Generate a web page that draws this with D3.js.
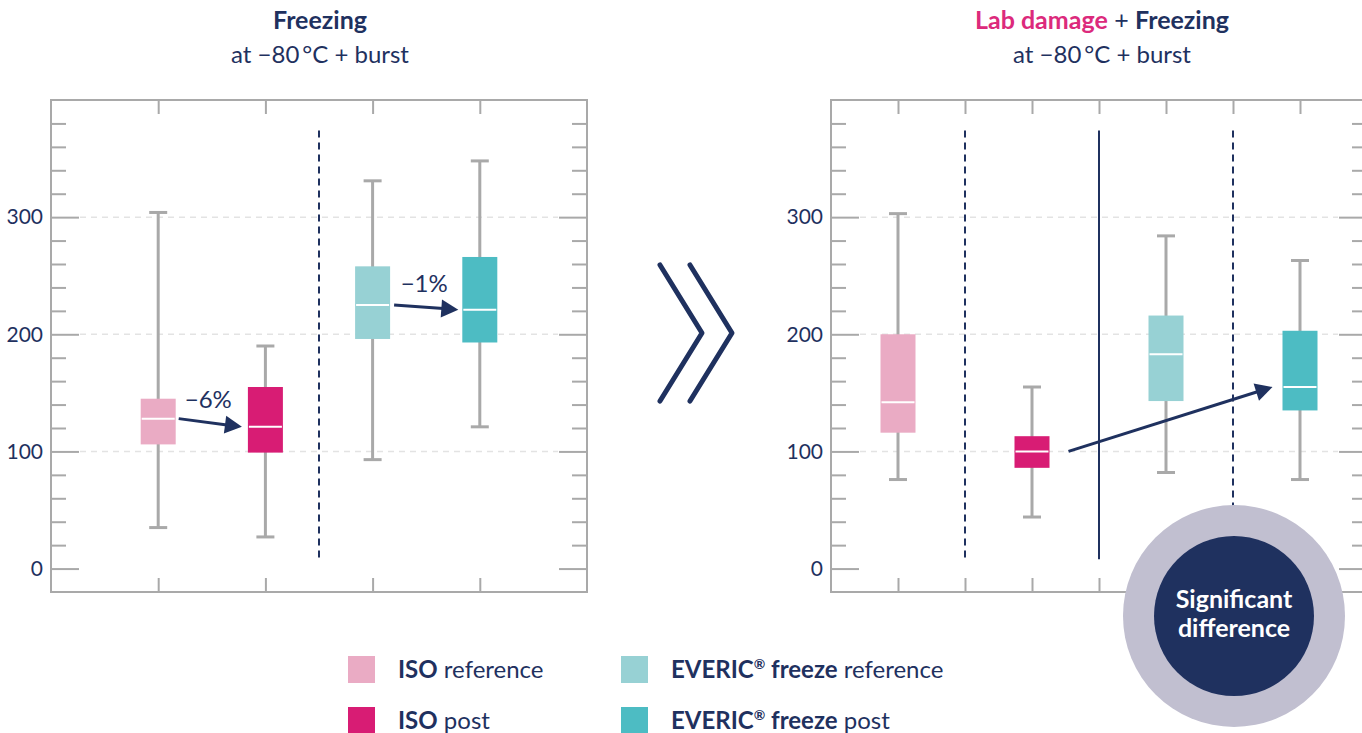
<!DOCTYPE html>
<html>
<head>
<meta charset="utf-8">
<script src="https://cdn.jsdelivr.net/npm/d3@7"></script>
<style>
  body { margin: 0; background: #fff; }
  svg { display: block; font-family: Lato, sans-serif; }
</style>
</head>
<body>
<div id="chart"></div>
<script>
// groups and colours
const groups = ['ISO reference', 'ISO post', 'EVERIC freeze reference', 'EVERIC freeze post'];
const groupColors = ['#eaabc4', '#d81c74', '#97d1d4', '#4dbcc3'];

// left panel: Freezing at -80 °C + burst (whisker low, q1, median, q3, whisker high)
const leftLow = [35, 27, 93, 121];
const leftQ1 = [106, 99, 196, 193];
const leftMedian = [128, 121, 225, 221];
const leftQ3 = [145, 155, 258, 266];
const leftHigh = [304, 190, 331, 348];

// right panel: Lab damage + Freezing at -80 °C + burst
const rightLow = [76, 44, 82, 76];
const rightQ1 = [116, 86, 143, 135];
const rightMedian = [142, 100, 183, 155];
const rightQ3 = [200, 113, 216, 203];
const rightHigh = [303, 155, 284, 263];

// y axis ticks
const majorTicks = [0, 100, 200, 300];
const minorTicks = [20, 40, 60, 80, 120, 140, 160, 180, 220, 240, 260, 280, 320, 340, 360, 380];
const gridTicks = [100, 200, 300];

// change labels
const leftChanges = ['\u22126%', '\u22121%'];

const width = 1362, height = 733;
const navy = '#1f315f';
const grey = '#a9a9a9';
const panelWidth = 536;
const boxWidth = 35;

const svg = d3.select('#chart')
  .append('svg')
  .attr('width', width)
  .attr('height', height);

const y = d3.scaleLinear().domain([-20, 400]).range([592, 100]);

const styleAxis = (g) => {
  g.select('.domain').remove();
  g.selectAll('line').attr('stroke', grey).attr('stroke-width', 2);
  g.selectAll('text').attr('fill', navy).style('font-size', '21px').style('font-family', 'Lato, sans-serif');
};

// draws one framed panel, returns its x scale
const drawPanel = (opts) => {
  const x = d3.scaleLinear().domain([0, opts.slots]).range([opts.left, opts.left + panelWidth]);
  const g = svg.append('g');

  // dashed grid
  g.selectAll('line.grid')
    .data(gridTicks)
    .enter().append('line')
      .attr('class', 'grid')
      .attr('x1', opts.left + 29)
      .attr('x2', opts.left + panelWidth - 29)
      .attr('y1', d => y(d))
      .attr('y2', d => y(d))
      .attr('stroke', '#e3e3e3')
      .attr('stroke-width', 1.5)
      .attr('stroke-dasharray', '6,5');

  // axes, ticks pointing inward
  g.append('g').attr('transform', `translate(${opts.left},0)`)
    .call(d3.axisLeft(y).tickValues(majorTicks).tickSize(-28).tickPadding(8))
    .call(styleAxis);
  g.append('g').attr('transform', `translate(${opts.left},0)`)
    .call(d3.axisLeft(y).tickValues(minorTicks).tickSize(-15).tickFormat(''))
    .call(styleAxis);
  g.append('g').attr('transform', `translate(${opts.left + panelWidth},0)`)
    .call(d3.axisRight(y).tickValues(majorTicks).tickSize(-28).tickFormat(''))
    .call(styleAxis);
  g.append('g').attr('transform', `translate(${opts.left + panelWidth},0)`)
    .call(d3.axisRight(y).tickValues(minorTicks).tickSize(-15).tickFormat(''))
    .call(styleAxis);
  g.append('g').attr('transform', `translate(0,${y(400)})`)
    .call(d3.axisTop(x).tickValues(d3.range(1, opts.slots)).tickSize(-14).tickFormat(''))
    .call(styleAxis);
  g.append('g').attr('transform', `translate(0,${y(-20)})`)
    .call(d3.axisBottom(x).tickValues(d3.range(1, opts.slots)).tickSize(-14).tickFormat(''))
    .call(styleAxis);

  // frame
  g.append('rect')
    .attr('x', opts.left)
    .attr('y', y(400))
    .attr('width', panelWidth)
    .attr('height', y(-20) - y(400))
    .attr('fill', 'none')
    .attr('stroke', grey)
    .attr('stroke-width', 2);

  // separators
  g.selectAll('line.sep')
    .data(opts.separators)
    .enter().append('line')
      .attr('class', 'sep')
      .attr('x1', d => x(d.pos))
      .attr('x2', d => x(d.pos))
      .attr('y1', y(374))
      .attr('y2', y(8))
      .attr('stroke', navy)
      .attr('stroke-width', 2)
      .attr('stroke-dasharray', d => d.dashed ? '7,5' : null);

  // boxes
  const stats = groups.map((name, i) => ({
    name, color: groupColors[i], pos: opts.positions[i],
    low: opts.low[i], q1: opts.q1[i], median: opts.median[i], q3: opts.q3[i], high: opts.high[i]
  }));

  const box = g.selectAll('g.box')
    .data(stats)
    .enter().append('g')
      .attr('class', 'box');

  box.append('line')
    .attr('x1', d => x(d.pos)).attr('x2', d => x(d.pos))
    .attr('y1', d => y(d.low)).attr('y2', d => y(d.high))
    .attr('stroke', grey).attr('stroke-width', 3);
  box.selectAll('line.cap')
    .data(d => [d.low, d.high].map(v => ({ v, pos: d.pos })))
    .enter().append('line')
      .attr('class', 'cap')
      .attr('x1', d => x(d.pos) - 9).attr('x2', d => x(d.pos) + 9)
      .attr('y1', d => y(d.v)).attr('y2', d => y(d.v))
      .attr('stroke', grey).attr('stroke-width', 3);
  box.append('rect')
    .attr('x', d => x(d.pos) - boxWidth / 2)
    .attr('y', d => y(d.q3))
    .attr('width', boxWidth)
    .attr('height', d => y(d.q1) - y(d.q3))
    .attr('fill', d => d.color);
  box.append('line')
    .attr('x1', d => x(d.pos) - boxWidth / 2 + 1).attr('x2', d => x(d.pos) + boxWidth / 2 - 1)
    .attr('y1', d => y(d.median)).attr('y2', d => y(d.median))
    .attr('stroke', '#fff').attr('stroke-width', 2);

  // arrows between medians
  opts.arrows.forEach(a => {
    const x1 = x(stats[a.from].pos) + boxWidth / 2 + a.gapStart;
    const y1 = y(stats[a.from].median);
    const x2 = x(stats[a.to].pos) - boxWidth / 2 - a.gapEnd;
    const y2 = y(stats[a.to].median);
    const len = Math.hypot(x2 - x1, y2 - y1);
    const ux = (x2 - x1) / len, uy = (y2 - y1) / len;
    const head = 17, half = 9;
    const bx = x2 - ux * head, by = y2 - uy * head;
    g.append('line')
      .attr('x1', x1).attr('y1', y1)
      .attr('x2', bx + ux * 2).attr('y2', by + uy * 2)
      .attr('stroke', navy).attr('stroke-width', 3);
    g.append('path')
      .attr('d', d3.line()([[x2, y2], [bx - uy * half, by + ux * half], [bx + uy * half, by - ux * half]]) + 'Z')
      .attr('fill', navy);
    if (a.label) {
      g.append('text')
        .attr('x', (x1 + x2) / 2 - 2)
        .attr('y', (y1 + y2) / 2 - 15)
        .attr('text-anchor', 'middle')
        .attr('fill', navy)
        .style('font-size', '24px')
        .text(a.label);
    }
  });

  return x;
};

drawPanel({
  left: 51, slots: 5, positions: [1, 2, 3, 4],
  low: leftLow, q1: leftQ1, median: leftMedian, q3: leftQ3, high: leftHigh,
  separators: [{ pos: 2.5, dashed: true }],
  arrows: [
    { from: 0, to: 1, gapStart: 3, gapEnd: 6, label: leftChanges[0] },
    { from: 2, to: 3, gapStart: 4, gapEnd: 4, label: leftChanges[1] }
  ]
});

drawPanel({
  left: 831, slots: 8, positions: [1, 3, 5, 7],
  low: rightLow, q1: rightQ1, median: rightMedian, q3: rightQ3, high: rightHigh,
  separators: [{ pos: 2, dashed: true }, { pos: 4, dashed: false }, { pos: 6, dashed: true }],
  arrows: [
    { from: 1, to: 3, gapStart: 19, gapEnd: 10, label: '' }
  ]
});

// titles
const title = (cx, parts) => {
  const t = svg.append('text')
    .attr('x', cx).attr('y', 29)
    .attr('text-anchor', 'middle')
    .style('font-size', '25px');
  parts.forEach(p => t.append('tspan').attr('fill', p.color).attr('font-weight', p.bold ? 700 : 400).text(p.text));
  svg.append('text')
    .attr('x', cx).attr('y', 63)
    .attr('text-anchor', 'middle')
    .attr('fill', navy)
    .style('font-size', '24px')
    .text('at \u221280\u2009\u00b0C + burst');
};
title(320, [{ text: 'Freezing', bold: true, color: navy }]);
title(1102, [
  { text: 'Lab damage', bold: true, color: '#dc2a7c' },
  { text: ' + ', bold: false, color: navy },
  { text: 'Freezing', bold: true, color: navy }
]);

// chevrons between panels
[0, 30].forEach(dx => {
  svg.append('path')
    .attr('d', d3.line()([[660 + dx, 265], [702 + dx, 333], [660 + dx, 401]]))
    .attr('fill', 'none')
    .attr('stroke', navy)
    .attr('stroke-width', 5)
    .attr('stroke-linecap', 'round')
    .attr('stroke-linejoin', 'round');
});

// legend
const legendItems = [
  { bold: 'ISO', reg: ' reference', sup: false },
  { bold: 'ISO', reg: ' post', sup: false },
  { bold: 'EVERIC', reg: ' reference', sup: true },
  { bold: 'EVERIC', reg: ' post', sup: true }
];
const legend = svg.append('g');
legendItems.forEach((d, i) => {
  const lx = i < 2 ? 348 : 621;
  const ly = i % 2 === 0 ? 656 : 707;
  legend.append('rect')
    .attr('x', lx).attr('y', ly)
    .attr('width', 27).attr('height', 27)
    .attr('fill', groupColors[i]);
  const t = legend.append('text')
    .attr('x', lx + 50).attr('y', ly + 22)
    .attr('fill', navy)
    .style('font-size', '24px');
  t.append('tspan').attr('font-weight', 700).text(d.bold);
  if (d.sup) {
    t.append('tspan').attr('font-weight', 700).attr('dy', -9).style('font-size', '14px').text('\u00ae');
    t.append('tspan').attr('font-weight', 700).attr('dy', 9).text(' freeze');
  }
  t.append('tspan').attr('font-weight', 400).text(d.reg);
});

// significance badge
const badge = svg.append('g');
badge.append('circle').attr('cx', 1234).attr('cy', 616).attr('r', 111).attr('fill', '#c1bfd0');
badge.append('circle').attr('cx', 1234).attr('cy', 616).attr('r', 80).attr('fill', '#1f315f');
badge.selectAll('text')
  .data(['Significant', 'difference'])
  .enter().append('text')
    .attr('x', 1234)
    .attr('y', (d, i) => 608 + i * 29)
    .attr('text-anchor', 'middle')
    .attr('fill', '#fff')
    .attr('font-weight', 700)
    .style('font-size', '25px')
    .text(d => d);
</script>
</body>
</html>
